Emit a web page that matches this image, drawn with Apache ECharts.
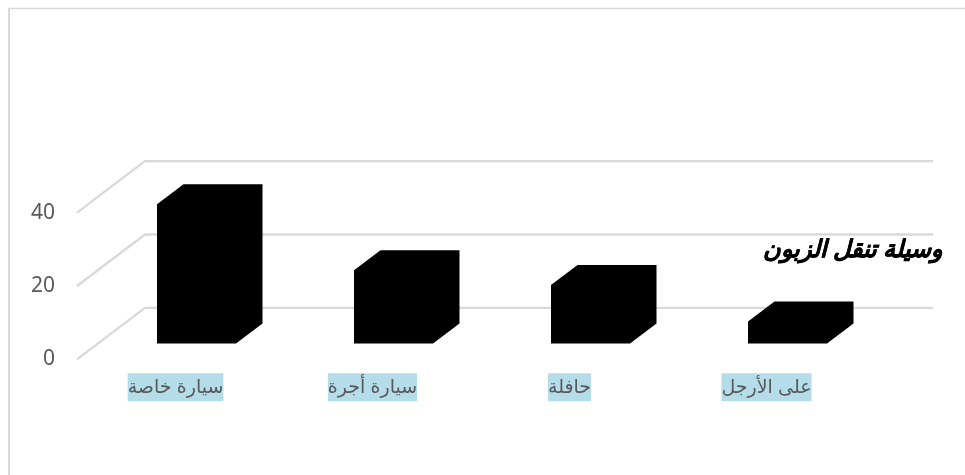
<!DOCTYPE html>
<html>
<head>
<meta charset="utf-8">
<style>html,body{margin:0;padding:0;background:#fff}#c{width:965px;height:475px}</style>
<script src="https://cdn.jsdelivr.net/npm/echarts@6/dist/echarts.min.js"></script>
</head>
<body>
<div id="c"></div>
<script>
const categories = ['سيارة خاصة', 'سيارة أجرة', 'حافلة', 'على الأرجل'];
const values = [38, 20, 16, 6];
const axisTicks = [0, 20, 40];
const titleText = 'وسيلة تنقل الزبون';

const depth = { dx: 68, dy: 51.5 };
const bar = { width: 79, dx: 26.5, dy: 20, shiftX: 21, shiftY: 15.7 };

const chart = echarts.init(document.getElementById('c'));
chart.setOption({
  animation: false,
  backgroundColor: '#fff',
  title: {
    text: titleText,
    right: 17, top: 234,
    textStyle: { fontFamily: '"Liberation Serif","DejaVu Sans",serif', fontSize: 24, fontWeight: 'bold', fontStyle: 'italic', color: '#000', textBorderColor: '#000', textBorderWidth: 0.4 }
  },
  grid: { left: 77, top: 212.7, width: 788, height: 146.6 },
  xAxis: {
    type: 'category', data: categories,
    axisLine: { show: false }, axisTick: { show: false }, splitLine: { show: false },
    axisLabel: {
      margin: 14, color: '#595959', fontSize: 19,
      fontFamily: '"Liberation Sans","DejaVu Sans",sans-serif',
      backgroundColor: '#b4dde9', padding: [4, 0, 4, 0], lineHeight: 20
    }
  },
  yAxis: {
    type: 'value', min: 0, max: 40, interval: 20,
    axisLine: { show: false }, axisTick: { show: false }, splitLine: { show: false },
    axisLabel: { margin: 22, color: '#595959', fontSize: 21, fontFamily: '"Noto Sans",sans-serif', padding: [4, 0, 0, 0] }
  },
  graphic: [
    { type: 'line', silent: true, shape: { x1: 8, y1: 8.5, x2: 965, y2: 8.5 }, style: { stroke: '#d9d9d9', lineWidth: 1.5 } },
    { type: 'line', silent: true, shape: { x1: 9, y1: 8, x2: 9, y2: 475 }, style: { stroke: '#d9d9d9', lineWidth: 2 } }
  ],
  series: [
    {
      type: 'custom', z: 1, silent: true,
      data: axisTicks,
      encode: { y: 0 },
      renderItem(params, api) {
        const y = api.coord([0, api.value(0)])[1];
        const x0 = params.coordSys.x, x1 = x0 + params.coordSys.width;
        return {
          type: 'polyline',
          shape: { points: [[x0, y], [x0 + depth.dx, y - depth.dy], [x1 + depth.dx, y - depth.dy]] },
          style: { fill: 'none', stroke: '#d9d9d9', lineWidth: 2.3 }
        };
      }
    },
    {
      type: 'custom', z: 2, silent: true,
      data: values.map((v, i) => [i, v]),
      encode: { x: 0, y: 1 },
      renderItem(params, api) {
        const base = api.coord([api.value(0), 0]);
        const top = api.coord([api.value(0), api.value(1)]);
        const l = base[0] + bar.shiftX - bar.width / 2, r = l + bar.width;
        const b = base[1] - bar.shiftY, t = top[1] - bar.shiftY;
        return {
          type: 'polygon',
          shape: { points: [[l, b], [r, b], [r + bar.dx, b - bar.dy], [r + bar.dx, t - bar.dy], [l + bar.dx, t - bar.dy], [l, t]] },
          style: { fill: '#000' }
        };
      }
    }
  ]
});
</script>
</body>
</html>
